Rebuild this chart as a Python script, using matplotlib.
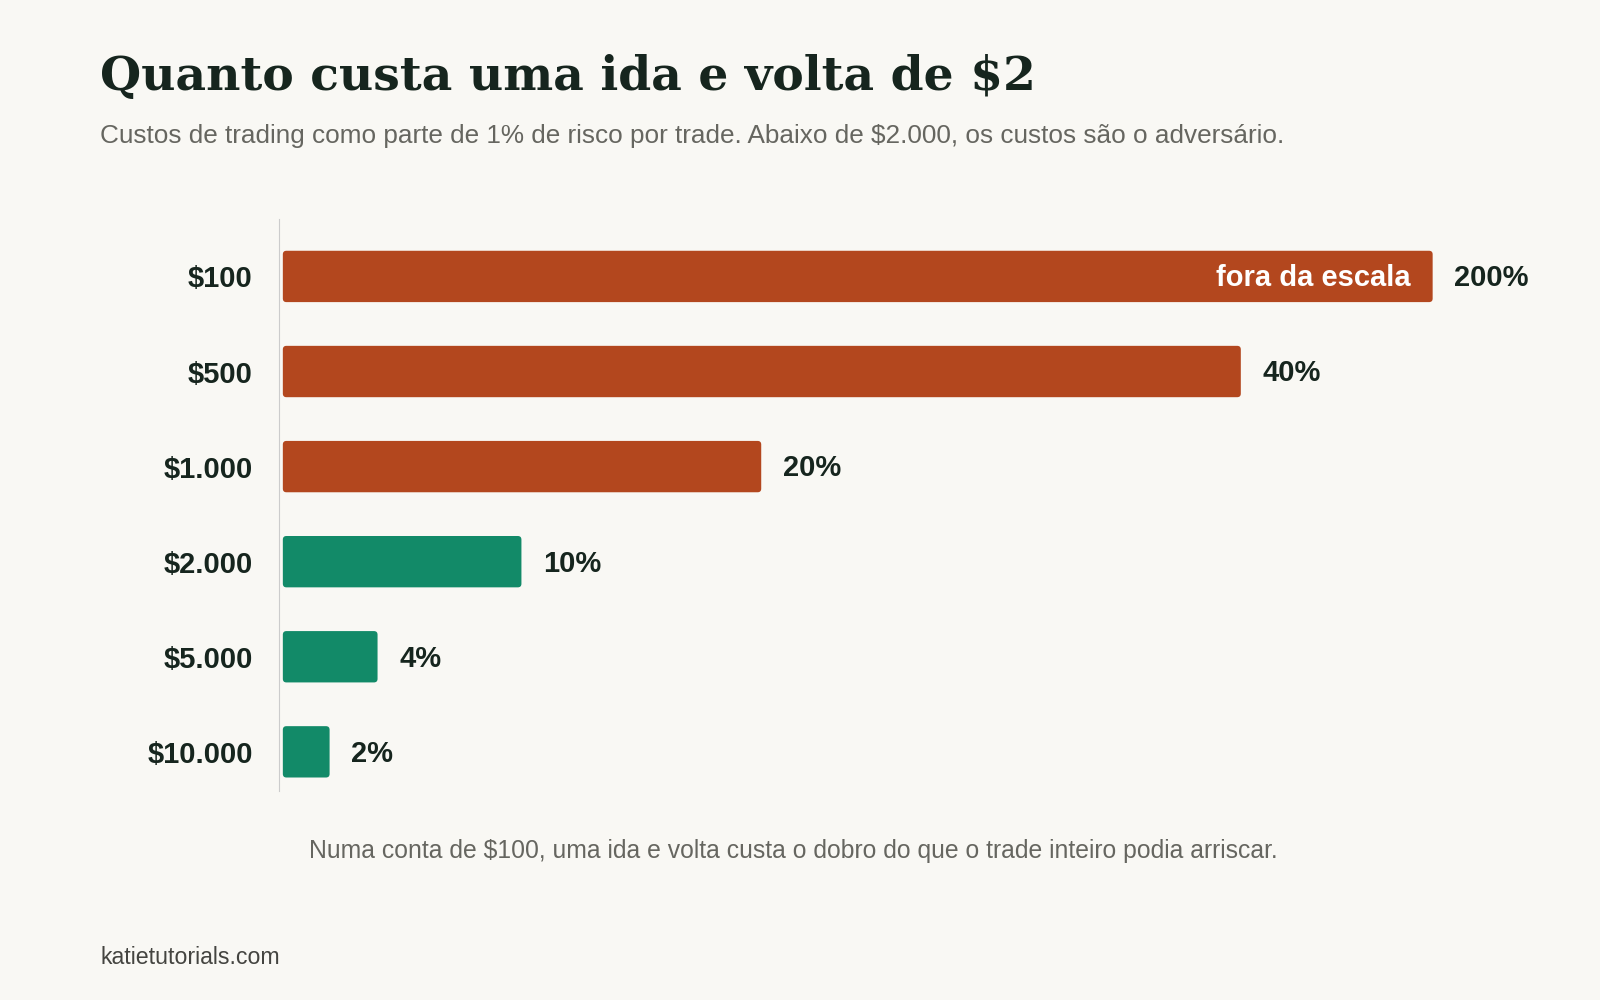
import matplotlib
matplotlib.use("Agg")
import matplotlib.pyplot as plt
from matplotlib.patches import FancyBboxPatch

categories = ["$100", "$500", "$1.000", "$2.000", "$5.000", "$10.000"]
values = [200, 40, 20, 10, 4, 2]
value_labels = ["200%", "40%", "20%", "10%", "4%", "2%"]
display_cap = 48
orange, green = "#B3471E", "#128A68"
colors = [orange, orange, orange, green, green, green]
bg = "#F9F8F4"; dark = "#16251E"; gray = "#666660"

W, H = 1568, 980
fig = plt.figure(figsize=(16, 10), dpi=100, facecolor=bg)
ax = fig.add_axes([276/W, 1-775/H, (1500-276)/W, (775-215)/H], facecolor=bg)
xmax = (1500-276)/23.5
ax.set_xlim(0, xmax)
ax.set_ylim(5.41, -0.6)
for s in ["top", "right", "bottom"]:
    ax.spines[s].set_visible(False)
ax.spines["left"].set_color("#CCCCCC")
ax.spines["left"].set_position(("data", -0.1))
ax.set_xticks([])
ax.set_yticks(range(len(categories)))
ax.set_yticklabels(categories, fontsize=21, fontweight="bold", color=dark, family="Liberation Sans")
ax.tick_params(axis="y", length=0, pad=19)

h = 0.54
aspect = (1/93)/(1/23.5)
for i, (v, c, lab) in enumerate(zip(values, colors, value_labels)):
    w = min(v, display_cap)
    p = FancyBboxPatch((0.05, i-h/2), w-0.05, h, boxstyle="round,pad=0,rounding_size=0.15",
                       mutation_aspect=aspect, facecolor=c, edgecolor="none")
    ax.add_patch(p)
    ax.text(w+0.9, i + 0.02, lab, va="center", ha="left", fontsize=21, fontweight="bold",
            color=dark, family="Liberation Sans")
    if v > display_cap:
        ax.text(w-0.9, i + 0.02, "fora da escala", va="center", ha="right", fontsize=21,
                fontweight="bold", color="white", family="Liberation Sans")

fig.text(98/W, 1-75/H, "Quanto custa uma ida e volta de $2", fontsize=34, fontweight="bold",
         family="DejaVu Serif", color=dark, va="center")
fig.text(98/W, 1-133/H, "Custos de trading como parte de 1% de risco por trade. Abaixo de $2.000, os custos são o adversário.",
         fontsize=18.8, color=gray, va="center", family="Liberation Sans")
fig.text(303/W, 1-834/H, "Numa conta de $100, uma ida e volta custa o dobro do que o trade inteiro podia arriscar.",
         fontsize=17.8, color=gray, va="center", family="Liberation Sans")
fig.text(98/W, 1-938/H, "katietutorials.com", fontsize=16.7, color="#444440", va="center", family="Liberation Sans")

fig.savefig("out.png", dpi=100, facecolor=bg)
